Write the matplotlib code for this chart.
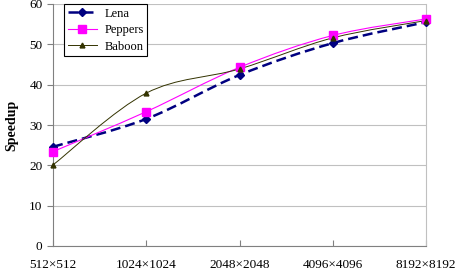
import matplotlib

matplotlib.use("Agg")
import matplotlib.pyplot as plt
import numpy as np
from matplotlib.path import Path
from matplotlib.patches import PathPatch

plt.rcParams["font.family"] = ["Liberation Serif", "DejaVu Serif"]

SIZES = ["512×512", "1024×1024", "2048×2048", "4096×4096", "8192×8192"]
LENA = [24.6, 31.5, 42.4, 50.3, 55.5]
PEPPERS = [23.4, 33.3, 44.3, 52.2, 56.3]
BABOON = [20.1, 37.9, 43.9, 51.6, 55.9]


def _smooth_path(xs, ys, tension=1 / 6):
    """Bezier path through points, like Excel's smoothed line."""
    pts = np.column_stack([xs, ys]).astype(float)
    verts = [pts[0]]
    codes = [Path.MOVETO]
    n = len(pts)
    for i in range(n - 1):
        p0 = pts[max(i - 1, 0)]
        p1 = pts[i]
        p2 = pts[i + 1]
        p3 = pts[min(i + 2, n - 1)]
        c1 = p1 + (p2 - p0) * tension
        c2 = p2 - (p3 - p1) * tension
        verts += [c1, c2, p2]
        codes += [Path.CURVE4] * 3
    return Path(verts, codes)


def main() -> None:
    fig = plt.figure(figsize=(4.58, 2.73), dpi=100)
    ax = fig.add_axes([53 / 458, 27 / 273, 373 / 458, 242 / 273])
    x = np.arange(len(SIZES))

    series = [
        (LENA, "Lena", "#000080", dict(marker="D", ms=4.5, lw=1.8, dashes=(4, 2))),
        (PEPPERS, "Peppers", "#FF00FF", dict(marker="s", ms=6, lw=0.8)),
        (BABOON, "Baboon", "#333300", dict(marker="^", ms=3.5, lw=0.7)),
    ]
    for values, label, color, style in series:
        path = _smooth_path(x, values)
        patch = PathPatch(path, facecolor="none", edgecolor=color,
                          lw=style["lw"], zorder=3)
        if "dashes" in style:
            patch.set_linestyle((0, style["dashes"]))
        ax.add_patch(patch)
        ax.plot(x, values, linestyle="none", marker=style["marker"],
                ms=style["ms"], color=color, mec=color, zorder=4, clip_on=False)
        # legend proxy
        proxy, = ax.plot([], [], color=color, lw=style["lw"], marker=style["marker"],
                         ms=style["ms"], label=label)
        if "dashes" in style:
            proxy.set_dashes(style["dashes"])

    ax.set_xlim(0, len(SIZES) - 1)
    ax.set_ylim(0, 60)
    ax.set_yticks(range(0, 61, 10))
    ax.set_xticks(x)
    ax.set_xticklabels(SIZES, fontsize=9.5)
    ax.tick_params(axis="y", labelsize=9.5, length=4, width=0.8, color="#808080")
    ax.tick_params(axis="x", length=4, direction="in", pad=9, width=0.8, color="#808080")
    ax.grid(axis="y", color="#c0c0c0", lw=0.8)
    ax.set_axisbelow(True)
    for side in ["left", "bottom"]:
        ax.spines[side].set_color("#808080")
    ax.spines["top"].set_visible(False)
    ax.spines["right"].set_color("#c0c0c0")
    ax.set_ylabel("Speedup", fontsize=10, fontweight="bold", labelpad=8)

    leg = ax.legend(loc="upper left", bbox_to_anchor=(0.03, 1.0), fontsize=9,
                    fancybox=False, edgecolor="black", framealpha=1,
                    handlelength=2.3, borderpad=0.3, labelspacing=0.35,
                    handletextpad=0.6, borderaxespad=0.0)
    leg.get_frame().set_linewidth(0.8)

    fig.savefig("out.png", dpi=100)
    plt.close(fig)


if __name__ == "__main__":
    main()
